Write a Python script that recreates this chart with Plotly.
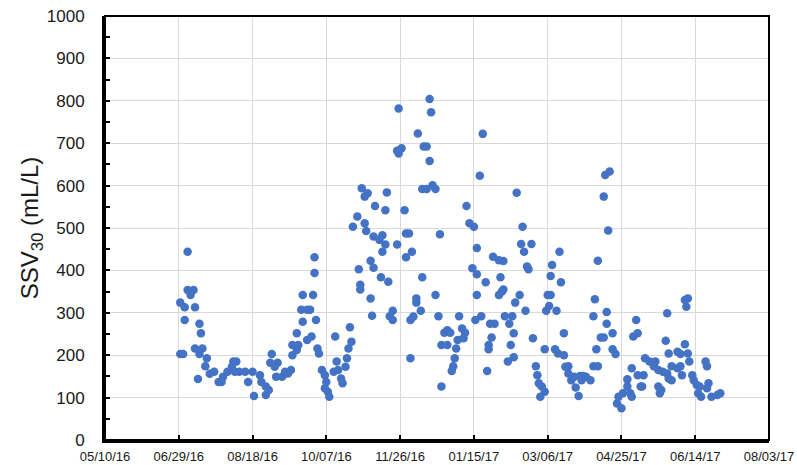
import pandas as pd
import plotly.graph_objects as go

# ---- data ----
start_date = "2016-05-10"

day_offset = [
    51, 53, 51, 54, 54, 56, 56, 60, 58, 61, 64, 65, 61, 66, 64, 63, 69, 68, 71, 74,
    77, 79, 80, 83, 86, 87, 89, 88, 91, 95, 97, 100, 101, 105, 106, 109, 109, 111, 113, 112,
    115, 117, 116, 120, 122, 124, 126, 127, 127, 130,
    130, 131, 137, 140, 134, 133, 137, 139, 134, 141, 143, 142, 142, 144, 145, 147, 149, 150, 149, 151,
    152, 156, 155, 157, 158, 160, 161, 163, 164, 165, 167, 166, 168, 171, 174, 176, 178, 176, 177, 172,
    173, 173, 180, 180, 181, 182, 183,
    220, 199, 221, 212, 198, 199, 201, 216, 218, 220, 191, 215, 218, 222, 224, 190, 203, 188, 186, 190,
    188, 198, 204, 206, 227, 208, 204, 182,
    187, 192, 193, 195, 195, 207, 209, 214, 211, 211, 215, 224, 207, 226, 232, 230, 234, 228, 232, 240,
    242, 244, 243, 239, 238, 237, 236, 235, 228, 249, 252, 252, 251,
    256, 254, 279, 245, 247, 250, 283, 252, 282, 289, 284, 263, 267, 270, 258, 268, 270, 267, 269, 281,
    278, 286, 287, 285, 290, 308, 303, 302, 309, 300, 302, 301, 299, 306, 255, 271, 276, 261, 264, 274,
    262, 277, 260, 260, 275, 298, 305, 307, 311, 277, 273, 259, 292, 293, 294, 296, 298, 295, 312,
    339, 342, 338, 341, 334, 332, 340, 331, 340, 344, 311, 336, 338, 344, 346, 333, 314, 331, 334, 314,
    318, 322, 324, 326, 329, 323, 316, 319, 321, 360, 358, 361, 357, 361, 365, 354, 363, 354, 356, 351,
    348, 347, 350, 357,
    393, 395, 394, 381, 380, 393, 382, 388, 390, 395, 407, 408, 366, 369, 373, 372, 384, 388, 390, 396,
    375, 378, 381, 382, 384, 391, 398, 399, 401, 403, 402, 404, 409, 408, 364, 375, 377, 376, 411, 415,
    417,
]

ssv30 = [
    203, 203, 324, 313, 283, 444, 354, 354, 342, 313, 274, 252, 216, 216, 203, 144, 193, 174, 156, 161,
    137, 137, 149, 161, 173, 185, 185, 161, 161, 161, 137, 161, 104, 153, 137, 126, 106, 118, 203, 182,
    173, 182, 149, 149, 161, 157, 165, 224, 200, 252,
    212, 224, 236, 244, 279, 307, 307, 307, 342, 342, 283, 431, 394, 216, 204, 165, 153, 137, 122, 114,
    102, 244, 161, 185, 165, 145, 134, 173, 193, 216, 232, 266, 503, 527, 594, 574, 582, 511, 493, 403,
    366, 355, 423, 334, 293, 480, 552,
    804, 782, 773, 723, 682, 676, 688, 692, 692, 658, 584, 592, 592, 601, 592, 542, 542, 483, 472, 461,
    444, 461, 487, 487, 485, 444, 431, 406,
    384, 373, 292, 283, 305, 283, 291, 305, 324, 334, 384, 342, 193, 292, 259, 253, 253, 224, 224, 292,
    263, 253, 240, 236, 216, 193, 174, 163, 126, 405, 391, 342, 283,
    722, 623, 583, 552, 511, 503, 503, 453, 462, 462, 444, 432, 424, 422, 372, 384, 355, 342, 350, 342,
    324, 409, 403, 305, 240, 444, 413, 387, 372, 342, 342, 316, 305, 305, 292, 292, 292, 274, 274, 274,
    242, 252, 224, 214, 224, 214, 214, 204, 200, 195, 185, 163, 174, 153, 134, 126, 114, 102, 173,
    625, 633, 574, 494, 423, 332, 302, 292, 274, 252, 252, 242, 242, 214, 203, 214, 174, 174, 174, 157,
    149, 151, 151, 149, 141, 141, 141, 124, 104, 283, 244, 252, 169, 153, 153, 143, 126, 126, 110, 110,
    102, 86, 75, 102,
    330, 334, 314, 299, 234, 226, 204, 208, 203, 204, 185, 174, 193, 185, 185, 174, 174, 169, 174, 185,
    165, 161, 157, 145, 141, 153, 153, 141, 130, 126, 110, 102, 134, 122, 126, 126, 118, 110, 102, 106,
    110,
]

x_tick_dates = ["2016-05-10", "2016-06-29", "2016-08-18", "2016-10-07", "2016-11-26",
                "2017-01-15", "2017-03-06", "2017-04-25", "2017-06-14", "2017-08-03"]
x_tick_labels = ["05/10/16", "06/29/16", "08/18/16", "10/07/16", "11/26/16",
                 "01/15/17", "03/06/17", "04/25/17", "06/14/17", "08/03/17"]
y_ticks = [0, 100, 200, 300, 400, 500, 600, 700, 800, 900, 1000]

# ---- figure ----
dates = pd.Timestamp(start_date) + pd.to_timedelta(day_offset, unit="D")

FONT = "Liberation Sans, Arial, sans-serif"
GRID = "#D9D9D9"

fig = go.Figure(
    go.Scatter(
        x=dates,
        y=ssv30,
        mode="markers",
        marker=dict(color="#4472C4", size=8.5, line=dict(width=0)),
        showlegend=False,
    )
)

fig.update_layout(
    width=797,
    height=465,
    margin=dict(l=105, r=28, t=16, b=25, autoexpand=False),
    paper_bgcolor="white",
    plot_bgcolor="white",
    font=dict(family=FONT, color="#1a1a1a"),
    shapes=[dict(type="rect", xref="paper", yref="paper", x0=0, y0=0, x1=1, y1=1,
                 line=dict(color="black", width=2), layer="above")],
)

fig.update_xaxes(
    automargin=False,
    range=[pd.Timestamp(x_tick_dates[0]), pd.Timestamp(x_tick_dates[-1])],
    tickmode="array",
    tickvals=[pd.Timestamp(d) for d in x_tick_dates],
    ticktext=x_tick_labels,
    tickfont=dict(size=13, family=FONT, color="#1a1a1a"),
    ticklabelstandoff=2,
    ticklabeloverflow="allow",
    showgrid=True,
    gridcolor=GRID,
    gridwidth=1,
    showline=True,
    linecolor="black",
    linewidth=3,
    ticks="inside",
    ticklen=5,
    tickwidth=1.5,
    tickcolor="black",
    zeroline=False,
)

fig.update_yaxes(
    automargin=False,
    range=[0, 1000],
    tickmode="array",
    tickvals=y_ticks,
    ticktext=[str(v) for v in y_ticks],
    tickfont=dict(size=17, family=FONT, color="#1a1a1a"),
    showgrid=True,
    gridcolor=GRID,
    gridwidth=1,
    showline=True,
    linecolor="black",
    linewidth=3,
    ticks="inside",
    ticklen=5,
    tickwidth=1.5,
    tickcolor="black",
    ticklabelstandoff=14,
    minor=dict(dtick=50, tick0=0, ticks="inside", ticklen=5, tickwidth=1.5,
               tickcolor="black", showgrid=False),
    zeroline=False,
    title=dict(text="SSV<sub>30</sub> (mL/L)", font=dict(size=24, family=FONT, color="#1a1a1a"),
               standoff=2),
)

fig.write_html(
    "out.html",
    config={"displayModeBar": False},
    post_script="document.body.style.margin='0';document.body.style.padding='0';"
                "document.body.style.overflow='hidden';",
)
